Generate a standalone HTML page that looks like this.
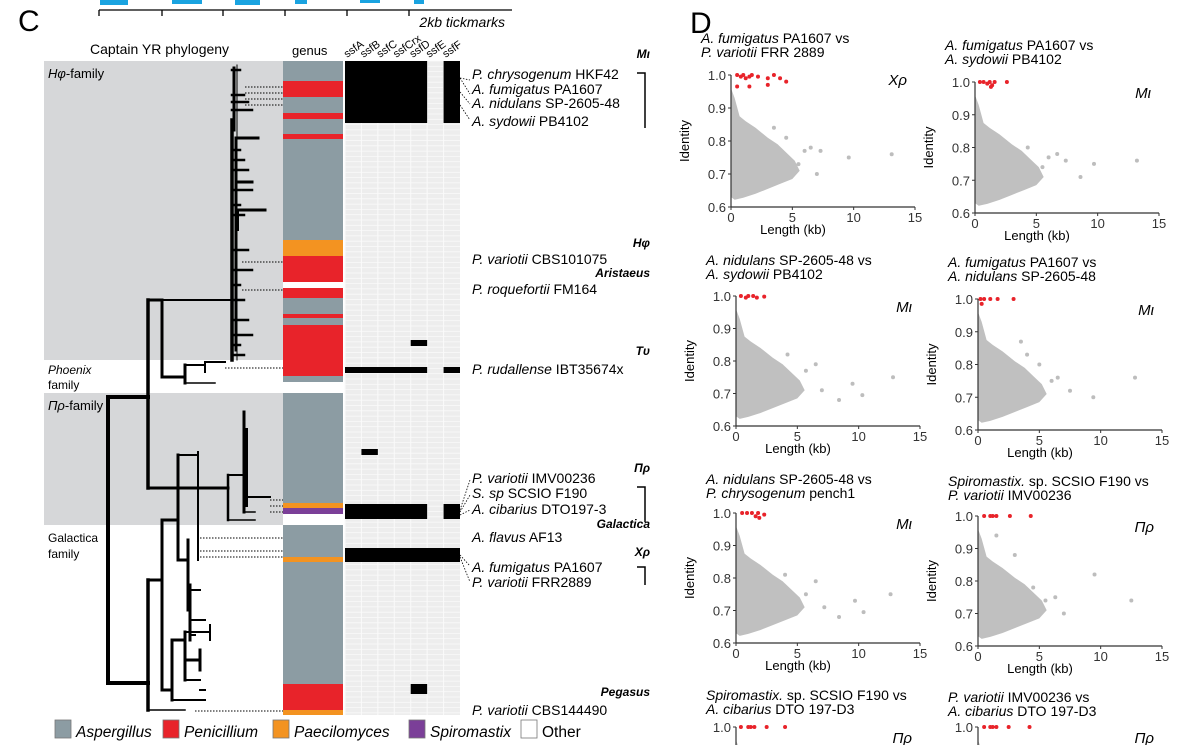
<!DOCTYPE html>
<html><head><meta charset="utf-8"><style>
body{margin:0;background:#fff;width:1200px;height:745px;overflow:hidden;font-family:"Liberation Sans",sans-serif}
svg{display:block}
</style></head><body>
<svg id="fig" width="1200" height="745" viewBox="0 0 1200 745" xmlns="http://www.w3.org/2000/svg" font-family="Liberation Sans, sans-serif">
<g id="panelC">
  <text x="18" y="31" font-size="30">C</text>
  <g fill="#1aa3e0">
    <rect x="100" y="0" width="28" height="5"/><rect x="172" y="0" width="30" height="4"/>
    <rect x="235" y="0" width="25" height="5"/><rect x="295" y="0" width="12" height="4"/>
    <rect x="360" y="0" width="20" height="3"/><rect x="414" y="0" width="10" height="4"/>
  </g>
  <g stroke="#000" stroke-width="1.3">
    <line x1="99" y1="10" x2="512" y2="10"/>
    <line x1="99" y1="10" x2="99" y2="16"/><line x1="162" y1="10" x2="162" y2="16"/>
    <line x1="223" y1="10" x2="223" y2="16"/><line x1="285" y1="10" x2="285" y2="16"/>
    <line x1="347" y1="10" x2="347" y2="16"/><line x1="409" y1="10" x2="409" y2="16"/>
  </g>
  <text x="505" y="27" font-size="14" font-style="italic" text-anchor="end">2kb tickmarks</text>
  <text x="90" y="54" font-size="14">Captain YR phylogeny</text>
  <text x="292" y="55" font-size="13">genus</text>
  <g id="famBg"></g>
  <g id="genus"></g>
  <g id="heat"></g>
  <g id="tree"></g>
  <g id="labels"></g>
  <g id="legend"></g>
</g>
<g id="panelD">
  <text x="690" y="33" font-size="30">D</text>
</g>
</svg>
<script>
const NS='http://www.w3.org/2000/svg';
function mk(parent,tag,attrs,text){const e=document.createElementNS(NS,tag);for(const k in attrs)e.setAttribute(k,attrs[k]);if(text!==undefined)e.textContent=text;parent.appendChild(e);return e;}

// ---------- Panel C data ----------
const genusColors={A:'#8c9ca3',P:'#e8232a',Pa:'#f39321',S:'#7b3f98',O:'#ffffff'};
const genusStarts=[61,81,97,113,119,134,139,240,256,282,288,298,314,318,325,376,382,393,503,508,514,525,557,562,684,710];
const genusCodes=['A','P','A','P','A','P','A','Pa','P','O','P','A','P','A','P','A','O','A','Pa','S','O','A','Pa','A','P','Pa'];
const genusEnd=715;
const heatCols=['ssfA','ssfB','ssfC','ssfCrx','ssfD','ssfE','ssfF'];
// presence blocks: [firstCol,lastCol,yStart,yEnd]
const presenceBlocks=[[0,4,61,123],[6,6,61,123],[4,4,340,346],[0,4,367,373],[6,6,367,373],[1,1,449,455],[0,4,504,519],[6,6,504,519],[0,6,548,562],[4,4,684,694]];

const famBg=document.getElementById('famBg');
let r=mk(famBg,'rect',{x:44,y:61,width:239,height:299,fill:'#d6d7d9'});

r=mk(famBg,'rect',{x:44,y:393,width:239,height:132,fill:'#d6d7d9'});


const gG=document.getElementById('genus');
genusStarts.forEach((y,i)=>{const y2=i+1<genusStarts.length?genusStarts[i+1]:genusEnd;
  const e=mk(gG,'rect',{x:283,y:y,width:60,height:y2-y,fill:genusColors[genusCodes[i]]});
  
  });

const hG=document.getElementById('heat');
const hx0=345,hw=115,cw=hw/heatCols.length;
mk(hG,'rect',{x:hx0,y:61,width:hw,height:genusEnd-61,fill:'#ededed'});
for(let y=61;y<genusEnd;y+=5.3)mk(hG,'line',{x1:hx0,x2:hx0+hw,y1:y,y2:y,stroke:'#fafafa','stroke-width':0.8});
heatCols.forEach((c,i)=>{mk(hG,'line',{x1:hx0+i*cw,x2:hx0+i*cw,y1:61,y2:genusEnd,stroke:'#fafafa','stroke-width':1});
  const t=mk(hG,'text',{x:hx0+i*cw+2,y:58,'font-size':11,transform:`rotate(-35 ${hx0+i*cw+2} 58)`},c);
  });
presenceBlocks.forEach(b=>{const e=mk(hG,'rect',{x:hx0+b[0]*cw,y:b[2],width:(b[1]-b[0]+1)*cw,height:b[3]-b[2],fill:'#000'});
  });

// ---------- tree (drawn structure) ----------
const tG=document.getElementById('tree');
function L(x1,y1,x2,y2,w){mk(tG,'line',{x1,y1,x2,y2,stroke:'#000','stroke-width':w||3,'stroke-linecap':'square'});}
L(108,397,108,683,4);L(108,397,148,397,4);L(108,683,148,683,4);
L(148,300,148,488,3.5);L(148,300,162,300,3);L(162,300,162,377,3);L(162,300,232,300,2);
L(162,377,185,377,3);L(185,365,185,383,3);L(185,365,205,365,2);L(205,362,205,372,2);L(205,362,225,362,2);L(185,383,215,383,1.5);
L(148,488,228,488,3);L(228,475,228,520,2.5);L(228,475,244,475,2);L(244,412,244,512,3);L(228,520,255,520,1.5);
L(237,65,237,360,1);L(232,120,232,360,3.5);L(234,68,234,130,3);L(236,140,236,350,3);
[70,95,102,110,150,160,170,190,205,215,250,270,285,300,320,335,345,355].forEach((y,i)=>L(232,y,240+(i%4)*4,y,2.5));
L(236,138,258,138,3);L(236,182,252,182,3);L(236,210,265,210,3);L(238,210,238,230,2);
L(246,430,246,505,4);L(246,497,270,497,2);L(246,512,255,512,1.5);
L(148,580,148,710,3.5);L(148,580,162,580,3);L(148,710,185,710,1.5);
L(162,520,162,690,3);L(162,520,178,520,3);L(178,455,178,560,3);L(178,455,198,455,2);L(198,452,198,560,2);
L(178,560,188,560,3);L(188,540,188,610,3);L(188,610,190,610,2);L(190,585,190,640,3);
L(162,690,172,690,3);L(172,640,172,700,3);L(172,640,185,640,3);L(185,632,185,680,3);L(185,632,210,632,2);L(210,625,210,640,2);
L(185,660,200,660,3);L(200,650,200,670,3);L(185,680,200,680,2);L(172,700,205,700,2);L(200,690,205,690,2);
L(188,590,200,590,2);L(190,620,205,620,2);L(190,635,195,635,2);
// dotted leader lines
const dots=[[245,87,283],[245,93,283],[245,99,283],[245,105,283],[242,262,283],[242,290,283],[225,368,283],[270,500,283],[270,506,283],[270,512,283],[200,538,283],[200,551,283],[200,557,283],[195,711,283]];
dots.forEach(d=>mk(tG,'line',{x1:d[0],y1:d[1],x2:d[2],y2:d[1],stroke:'#000','stroke-width':1,'stroke-dasharray':'1.5,1.5'}));

// ---------- labels ----------
const lG=document.getElementById('labels');
function T(x,y,html,size,anchor,name){const e=mk(lG,'text',{x,y,'font-size':size||14,'text-anchor':anchor||'start'});e.innerHTML=html;
  }
T(48,78,'<tspan font-style="italic">Hφ</tspan>-family',13,'start','hphi-family-label');
T(48,374,'<tspan font-style="italic">Phoenix</tspan>',12,'start','phoenix-family-label');
T(48,389,'family',12,'start','phoenix-family-label2');
T(48,410,'<tspan font-style="italic">Πρ</tspan>-family',13,'start','pirho-family-label');
T(48,542,'Galactica',12,'start','galactica-family-label');
T(48,558,'family',12,'start','galactica-family-label2');
const sp=[[79,'P. chrysogenum',' HKF42'],[94,'A. fumigatus',' PA1607'],[108,'A. nidulans',' SP-2605-48'],[126,'A. sydowii',' PB4102'],
[264,'P. variotii',' CBS101075'],[294,'P. roquefortii',' FM164'],[374,'P. rudallense',' IBT35674x'],
[483,'P. variotii',' IMV00236'],[498,'S. sp',' SCSIO F190'],[514,'A. cibarius',' DTO197-3'],[542,'A. flavus',' AF13'],
[572,'A. fumigatus',' PA1607'],[587,'P. variotii',' FRR2889'],[715,'P. variotii',' CBS144490']];
sp.forEach(s=>T(472,s[0],`<tspan font-style="italic">${s[1]}</tspan>${s[2]}`,14,'start','species-label'));
const grp=[[58,'Mι'],[247,'Hφ'],[277,'Aristaeus'],[355,'Tυ'],[472,'Πρ'],[528,'Galactica'],[556,'Xρ'],[696,'Pegasus']];
grp.forEach(g=>T(650,g[0],`<tspan font-weight="bold" font-style="italic">${g[1]}</tspan>`,12,'end','group-label'));
[[645,73,128],[645,487,522],[645,567,585]].forEach(b=>{mk(lG,'path',{d:`M${b[0]-8} ${b[1]} H${b[0]} V${b[2]}`,fill:'none',stroke:'#000','stroke-width':1.5});});
[[460,78,470,80],[460,78,470,94],[460,92,470,104],[460,105,470,120],[460,510,470,480],[460,512,470,495],[460,515,470,510],[460,555,470,566],[460,557,470,582]].forEach(l=>mk(lG,'line',{x1:l[0],y1:l[1],x2:l[2],y2:l[3],stroke:'#000','stroke-width':0.8,'stroke-dasharray':'1.5,1.5'}));

// ---------- legend ----------
const legG=document.getElementById('legend');
const legNames=['Aspergillus','Penicillium','Paecilomyces','Spiromastix','Other'];
const legCodes=['A','P','Pa','S','O'];
const legX=[55,163,273,409,521];
legNames.forEach((n,i)=>{
  const g=mk(legG,'g',{});
  
  mk(g,'rect',{x:legX[i],y:720,width:16,height:18,fill:genusColors[legCodes[i]],stroke:'#777','stroke-width':0.8});
  mk(g,'text',{x:legX[i]+21,y:737,'font-size':15.5,'font-style':i<4?'italic':'normal'},n);
});

// ---------- Panel D: scatter plots ----------
const panelTitlesA=['A. fumigatus','A. fumigatus','A. nidulans','A. fumigatus','A. nidulans','Spiromastix.','Spiromastix.','P. variotii'];
const panelTitlesA2=[' PA1607 vs',' PA1607 vs',' SP-2605-48 vs',' PA1607 vs',' SP-2605-48 vs',' sp. SCSIO F190 vs',' sp. SCSIO F190 vs',' IMV00236 vs'];
const panelTitlesB=['P. variotii','A. sydowii','A. sydowii','A. nidulans','P. chrysogenum','P. variotii','A. cibarius','A. cibarius'];
const panelTitlesB2=[' FRR 2889',' PB4102',' PB4102',' SP-2605-48',' pench1',' IMV00236',' DTO 197-D3',' DTO 197-D3'];
const panelTags=['Xρ','Mι','Mι','Mι','Mι','Πρ','Πρ','Πρ'];
const xTicks=[0,5,10,15];
const yTicks=[0.6,0.7,0.8,0.9,1.0];
// gray cloud envelope (length kb, identity)
const cloudLen=[0,0.3,0.7,1.2,2,3,3.8,4.5,5.2,5.6,5,4,3,2,1,0.3,0];
const cloudId=[0.96,0.93,0.875,0.86,0.84,0.81,0.79,0.765,0.74,0.71,0.685,0.67,0.655,0.64,0.628,0.622,0.63];
const outlierLen=[[9.6,13.1,7.3,6.5,6,5.5,7,4.5,3.5],[9.7,13.2,7.4,6.7,8.6,6,5.5,4.3],[9.5,12.8,10.3,8.4,6.5,7,5.7,4.2],[9.4,12.8,7.5,6.5,6,5,3.5,4],[9.7,12.6,10.4,8.4,7.2,6.5,5.7,4],[9.5,12.5,7,6.3,5.5,4.5,3,1.5],[],[]];
const outlierId=[[0.75,0.76,0.77,0.78,0.77,0.73,0.7,0.81,0.84],[0.75,0.76,0.76,0.78,0.71,0.77,0.74,0.8],[0.73,0.75,0.695,0.68,0.79,0.71,0.77,0.82],[0.7,0.76,0.72,0.76,0.75,0.8,0.87,0.83],[0.73,0.75,0.695,0.68,0.71,0.79,0.75,0.81],[0.82,0.74,0.7,0.75,0.74,0.78,0.88,0.94],[],[]];
const redLen=[[0.5,0.8,1,1.2,1.5,1.7,2.2,3,3.5,4,4.5,0.5,1.5,3],[0.4,0.7,1,1.2,1.4,1.6,2.6,1.3],[0.4,0.8,1,1.4,1.7,2.3],[0.2,0.5,1,1.6,2.9,0.3],[0.5,0.9,1.3,1.6,1.8,2.3,1.9],[0.5,1,1.2,1.5,2.6,4.3],[0.4,1,1.2,1.5,2.5,4],[0.5,1,1.2,1.5,2.5,4.2]];
const redId=[[1.0,0.995,1.0,0.99,0.995,1.0,0.995,0.99,1.0,0.99,0.98,0.965,0.965,0.97],[1.0,1.0,0.995,1.0,0.99,1.0,1.0,0.985],[1.0,0.995,1.0,1.0,0.995,0.998],[1.0,1.0,1.0,1.0,1.0,0.985],[1.0,1.0,1.0,0.99,1.0,0.995,0.985],[1.0,1.0,1.0,1.0,1.0,1.0],[1.0,1.0,1.0,1.0,1.0,1.0],[1.0,1.0,1.0,1.0,1.0,1.0]];
// layout
const pX=[731,975,736,978,736,978,736,978];
const pTop=[75,82,296,299,513,516,727,727];
const pH=[132,131,130,131,130,130,130,130];
const pW=184;
const titleY=[43,50,265,267,484,486,700,702];
const pD=document.getElementById('panelD');
for(let p=0;p<8;p++){
  const g=mk(pD,'g',{});
  
  
  const x0=pX[p],y0=pTop[p],h=pH[p];
  const sx=v=>x0+v/15*pW, sy=v=>y0+(1-v)/0.4*h;
  const tx=x0-30;
  let t=mk(g,'text',{x:tx,y:titleY[p],'font-size':14});t.innerHTML=`<tspan font-style="italic">${panelTitlesA[p]}</tspan>${panelTitlesA2[p]}`;
  
  t=mk(g,'text',{x:tx,y:titleY[p]+14,'font-size':14});t.innerHTML=`<tspan font-style="italic">${panelTitlesB[p]}</tspan>${panelTitlesB2[p]}`;
  
  // cloud
  let d=cloudLen.map((v,i)=>(i?'L':'M')+sx(v)+' '+sy(cloudId[i])).join(' ')+'Z';
  const c=mk(g,'path',{d,fill:'#c0c0c0'});
  
  outlierLen[p].forEach((v,i)=>{const e=mk(g,'circle',{cx:sx(v),cy:sy(outlierId[p][i]),r:2,fill:'#bdbdbd'});
    });
  redLen[p].forEach((v,i)=>{const e=mk(g,'circle',{cx:sx(v),cy:sy(redId[p][i]),r:2,fill:'#e8232a'});
    });
  // axes
  mk(g,'line',{x1:x0,y1:y0,x2:x0,y2:y0+h,stroke:'#333','stroke-width':1.2});
  mk(g,'line',{x1:x0,y1:y0+h,x2:x0+pW,y2:y0+h,stroke:'#333','stroke-width':1.2});
  yTicks.forEach(v=>{mk(g,'line',{x1:x0-3,x2:x0,y1:sy(v),y2:sy(v),stroke:'#333'});
    const e=mk(g,'text',{x:x0-5,y:sy(v)+5,'font-size':13,'text-anchor':'end',fill:'#333'},v.toFixed(1));
    });
  if(p<6){
    xTicks.forEach(v=>{mk(g,'line',{x1:sx(v),x2:sx(v),y1:y0+h,y2:y0+h+3,stroke:'#333'});
      const e=mk(g,'text',{x:sx(v),y:y0+h+15,'font-size':13,'text-anchor':'middle',fill:'#333'},v);
      });
    let e=mk(g,'text',{x:x0+62,y:y0+h+27,'font-size':13,'text-anchor':'middle'},'Length (kb)');
    
    const ax=x0-42, ay=y0+h/2;
    e=mk(g,'text',{x:ax,y:ay,'font-size':13,'text-anchor':'middle',transform:`rotate(-90 ${ax} ${ay})`},'Identity');
    
  }
  const tg=mk(g,'text',{x:x0+176,y:y0+(p==0?10:16),'font-size':15,'font-style':'italic','text-anchor':'end'},panelTags[p]);
  
}
</script>
</body></html>
